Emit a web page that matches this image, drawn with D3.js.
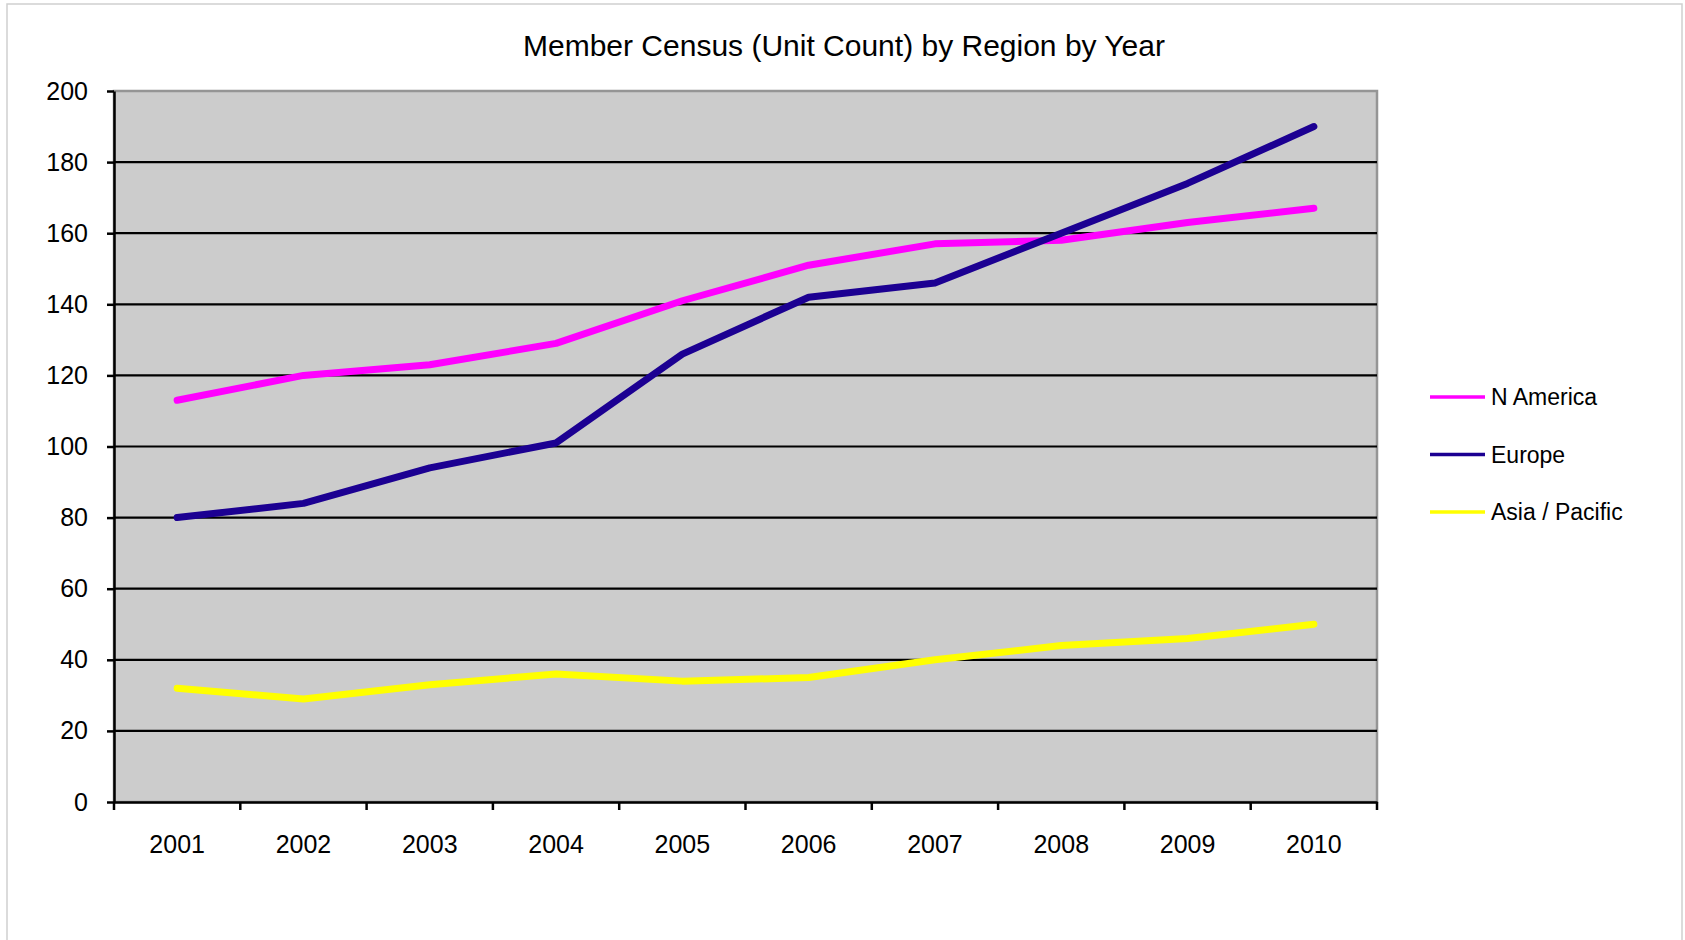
<!DOCTYPE html>
<html>
<head>
<meta charset="utf-8">
<script src="https://cdn.jsdelivr.net/npm/d3@7"></script>
<style>
  body { margin: 0; background: #fff; }
  svg { display: block; font-family: "Liberation Sans", Arial, sans-serif; }
</style>
</head>
<body>
<div id="chart"></div>
<script>
const years = ["2001", "2002", "2003", "2004", "2005", "2006", "2007", "2008", "2009", "2010"];
const nAmerica = [113, 120, 123, 129, 141, 151, 157, 158, 163, 167];
const europe = [80, 84, 94, 101, 126, 142, 146, 160, 174, 190];
const asiaPacific = [32, 29, 33, 36, 34, 35, 40, 44, 46, 50];
const yTicks = [0, 20, 40, 60, 80, 100, 120, 140, 160, 180, 200];

const series = [
  { name: "N America", values: nAmerica, color: "#ff00ff" },
  { name: "Europe", values: europe, color: "#1c0092" },
  { name: "Asia / Pacific", values: asiaPacific, color: "#ffff00" }
];

const width = 1685;
const height = 940;
const plot = { left: 114, right: 1377, top: 91, bottom: 802 };

const svg = d3.select("#chart")
  .append("svg")
  .attr("width", width)
  .attr("height", height);

// outer frame
svg.append("rect")
  .attr("x", 7)
  .attr("y", 4)
  .attr("width", 1675)
  .attr("height", 960)
  .attr("fill", "#fff")
  .attr("stroke", "#cfcfcf")
  .attr("stroke-width", 1.5);

const x = d3.scaleBand()
  .domain(years)
  .range([plot.left, plot.right]);

const y = d3.scaleLinear()
  .domain([0, 200])
  .range([plot.bottom, plot.top]);

// plot background
svg.append("rect")
  .attr("x", plot.left)
  .attr("y", plot.top)
  .attr("width", plot.right - plot.left)
  .attr("height", plot.bottom - plot.top)
  .attr("fill", "#cccccc")
  .attr("stroke", "#959595")
  .attr("stroke-width", 2.5);

// gridlines
svg.append("g")
  .selectAll("line")
  .data(yTicks.filter(d => d > 0 && d < 200))
  .enter()
  .append("line")
  .attr("x1", plot.left)
  .attr("x2", plot.right)
  .attr("y1", d => y(d))
  .attr("y2", d => y(d))
  .attr("stroke", "#000")
  .attr("stroke-width", 2.2);

// y axis
const yAxis = svg.append("g")
  .attr("transform", `translate(${plot.left},0)`)
  .call(d3.axisLeft(y).tickValues(yTicks).tickSize(7).tickPadding(19).tickSizeOuter(0));
yAxis.select(".domain").attr("stroke", "#000").attr("stroke-width", 2.5);
yAxis.selectAll(".tick line").attr("stroke", "#000").attr("stroke-width", 2.5);
yAxis.selectAll(".tick text")
  .attr("font-size", 25)
  .attr("font-family", "Liberation Sans, Arial, sans-serif")
  .attr("fill", "#000");

// x axis
const xAxis = svg.append("g")
  .attr("transform", `translate(0,${plot.bottom})`)
  .call(d3.axisBottom(x).tickSize(0).tickPadding(33).tickSizeOuter(0));
xAxis.select(".domain").attr("stroke", "#000").attr("stroke-width", 2.5);
xAxis.selectAll(".tick text")
  .attr("font-size", 25)
  .attr("font-family", "Liberation Sans, Arial, sans-serif")
  .attr("fill", "#000");

// category boundary ticks
svg.append("g")
  .selectAll("line")
  .data(years.map(d => x(d)).concat([plot.right]))
  .enter()
  .append("line")
  .attr("x1", d => d)
  .attr("x2", d => d)
  .attr("y1", plot.bottom)
  .attr("y2", plot.bottom + 8)
  .attr("stroke", "#000")
  .attr("stroke-width", 2.5);

// lines
const line = d3.line()
  .x((d, i) => x(years[i]) + x.bandwidth() / 2)
  .y(d => y(d));

svg.append("g")
  .selectAll("path")
  .data(series)
  .enter()
  .append("path")
  .attr("d", d => line(d.values))
  .attr("fill", "none")
  .attr("stroke", d => d.color)
  .attr("stroke-width", 7)
  .attr("stroke-linejoin", "round")
  .attr("stroke-linecap", "round");

// title
svg.append("text")
  .attr("x", 844)
  .attr("y", 56)
  .attr("text-anchor", "middle")
  .attr("font-size", 30)
  .attr("fill", "#000")
  .text("Member Census (Unit Count) by Region by Year");

// legend
const legend = svg.append("g")
  .selectAll("g")
  .data(series)
  .enter()
  .append("g")
  .attr("transform", (d, i) => `translate(1430,${397 + i * 57.5})`);

legend.append("line")
  .attr("x1", 0)
  .attr("x2", 55)
  .attr("stroke", d => d.color)
  .attr("stroke-width", 3.5);

legend.append("text")
  .attr("x", 61)
  .attr("y", 8)
  .attr("font-size", 23)
  .attr("fill", "#000")
  .text(d => d.name);
</script>
</body>
</html>
